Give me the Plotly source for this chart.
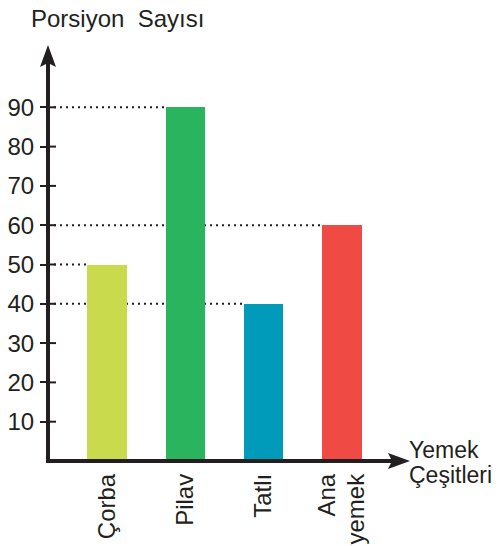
import plotly.graph_objects as go

categories = ["Çorba", "Pilav", "Tatlı", "Ana<br>yemek"]
values = [50, 90, 40, 60]
colors = ["#c9db4c", "#2bb45e", "#009bba", "#ef4a44"]
y_ticks = [10, 20, 30, 40, 50, 60, 70, 80, 90]
guide_values = [50, 90, 40, 60]  # dotted guide lines to bar tops

FONT = "Liberation Sans, Arial, Helvetica, sans-serif"
DARK = "#231f20"

W, H = 501, 546
ML, MR, MT, MB = 48, 91, 45, 85
PW = W - ML - MR
PH = H - MT - MB
XMIN, XMAX = -0.7532, 3.868
YMAX = PH / 3.93
BAR_W = 0.5
AXW = 4
LINE_STEP = 29 / (PW / (XMAX - XMIN))  # spacing of wrapped label lines, in x units

x_pos = list(range(len(categories)))

# category labels: one tick per text line so wrapped lines stay top-aligned
tick_vals, tick_text = [], []
for xi, cat in zip(x_pos, categories):
    lines = cat.split("<br>")
    n = len(lines)
    for k, ln in enumerate(lines):
        tick_vals.append(xi + (k - (n - 1) / 2) * LINE_STEP)
        tick_text.append(ln)

fig = go.Figure()
fig.add_trace(go.Bar(
    x=x_pos, y=values, width=BAR_W,
    marker=dict(color=colors, line=dict(width=0)),
    hoverinfo="skip", showlegend=False,
))

shapes = []
for xi, v in zip(x_pos, guide_values):
    shapes.append(dict(type="line", xref="x", yref="y", x0=XMIN, x1=xi - BAR_W / 2,
                       y0=v, y1=v, layer="below",
                       line=dict(color=DARK, width=2, dash="2px,4px")))
for t in y_ticks:
    shapes.append(dict(type="line", xref="paper", yref="y", x0=0, x1=8 / PW,
                       y0=t, y1=t, line=dict(color=DARK, width=2)))

# axis lines
shapes.append(dict(type="line", xref="paper", yref="paper", x0=0, x1=0,
                   y0=-2 / PH, y1=1 - 16 / PH, line=dict(color=DARK, width=AXW)))
shapes.append(dict(type="line", xref="paper", yref="paper", x0=-2 / PW, x1=1 - 16 / PW,
                   y0=0, y1=0, line=dict(color=DARK, width=AXW)))
# arrow heads (pixel-sized, anchored at axis tips)
shapes.append(dict(type="path", xref="paper", yref="paper", xsizemode="pixel",
                   ysizemode="pixel", xanchor=0, yanchor=1,
                   path="M0,0 L-8,-22 L0,-18 L8,-22 Z",
                   fillcolor=DARK, line=dict(width=0)))
shapes.append(dict(type="path", xref="paper", yref="paper", xsizemode="pixel",
                   ysizemode="pixel", xanchor=1, yanchor=0,
                   path="M0,0 L-22,8 L-18,0 L-22,-8 Z",
                   fillcolor=DARK, line=dict(width=0)))

annotations = [
    dict(x=(29 - ML) / PW, y=1 + (MT - 3) / PH, xref="paper", yref="paper",
         text="Porsiyon\u00a0 Sayısı", showarrow=False, xanchor="left", yanchor="top",
         font=dict(family=FONT, size=24, color=DARK)),
    dict(x=(407 - ML) / PW, y=(H - MB - 435) / PH, xref="paper", yref="paper",
         text="Yemek", showarrow=False, xanchor="left", yanchor="top",
         font=dict(family=FONT, size=23, color=DARK)),
    dict(x=(407 - ML) / PW, y=(H - MB - 460) / PH, xref="paper", yref="paper",
         text="Çeşitleri", showarrow=False, xanchor="left", yanchor="top",
         font=dict(family=FONT, size=23, color=DARK)),
]

fig.update_layout(
    width=W, height=H, autosize=False,
    margin=dict(l=ML, r=MR, t=MT, b=MB, pad=0, autoexpand=False),
    paper_bgcolor="white", plot_bgcolor="white",
    shapes=shapes, annotations=annotations,
    bargap=0,
    xaxis=dict(range=[XMIN, XMAX], tickvals=tick_vals, ticktext=tick_text,
               tickangle=-90, ticks="", showline=False, showgrid=False,
               zeroline=False, ticklabelstandoff=7, automargin=False,
               tickfont=dict(family=FONT, size=24, color=DARK), fixedrange=True),
    yaxis=dict(range=[0, YMAX], tickvals=y_ticks, ticks="outside", ticklen=7,
               tickwidth=2, tickcolor=DARK, showline=False, showgrid=False,
               zeroline=False, ticklabelstandoff=1, automargin=False,
               tickfont=dict(family=FONT, size=24, color=DARK), fixedrange=True),
)

fig.write_html("out.html", config={"displayModeBar": False},
               post_script="document.body.style.margin='0';document.body.style.overflow='hidden';")
